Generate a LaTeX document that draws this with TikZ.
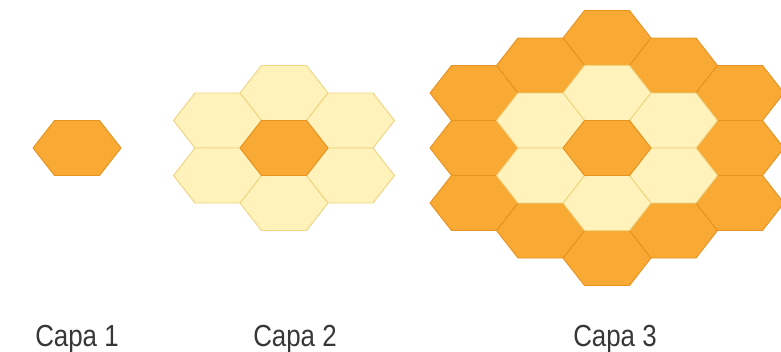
\documentclass[tikz,border=0pt]{standalone}
\usepackage{fontspec}
\setmainfont{Liberation Sans}
\usetikzlibrary{positioning}
\definecolor{honeyorange}{RGB}{248,170,52}
\definecolor{honeyedge}{RGB}{232,146,34}
\definecolor{paleyellow}{RGB}{255,242,186}
\definecolor{paleedge}{RGB}{240,212,130}
\definecolor{captiongray}{RGB}{55,55,55}

\begin{document}
\begin{tikzpicture}[x=0.03cm, y=-0.03cm,
    dark/.style={fill=honeyorange, draw=honeyedge, line width=0.8pt, line join=round},
    light/.style={fill=paleyellow, draw=paleedge, line width=0.8pt, line join=round},
    hexcell/.pic={
        \path[pic actions] (-44,0) -- (-22.5,-27.5) -- (22.5,-27.5) -- (44,0)
                           -- (22.5,27.5) -- (-22.5,27.5) -- cycle;
    },
    caption/.style={font=\fontsize{26}{30}\selectfont, text=captiongray,
                    xscale=0.85, anchor=base, inner sep=0pt}]

    \useasboundingbox (0,0) rectangle (781,351);

    % Capa 1
    \pic[dark] at (77,148) {hexcell};

    % Capa 2
    \foreach \c/\r in {0/-1, 0/1, -1/-0.5, -1/0.5, 1/-0.5, 1/0.5}
        \pic[light] at ({284+66.5*\c}, {148+55*\r}) {hexcell};
    \pic[dark] at (284,148) {hexcell};

    % Capa 3
    \foreach \c/\r in {0/-2, 0/2, -1/-1.5, -1/1.5, 1/-1.5, 1/1.5,
                       -2/-1, -2/0, -2/1, 2/-1, 2/0, 2/1}
        \pic[dark] at ({607+66.5*\c}, {148+55*\r}) {hexcell};
    \foreach \c/\r in {0/-1, 0/1, -1/-0.5, -1/0.5, 1/-0.5, 1/0.5}
        \pic[light] at ({607+66.5*\c}, {148+55*\r}) {hexcell};
    \pic[dark] at (607,148) {hexcell};

    \node[caption] (capa1) at (77,346) {Capa 1};
    \node[caption] (capa2) at (295,346) {Capa 2};
    \node[caption] (capa3) at (615,346) {Capa 3};
\end{tikzpicture}
\end{document}
